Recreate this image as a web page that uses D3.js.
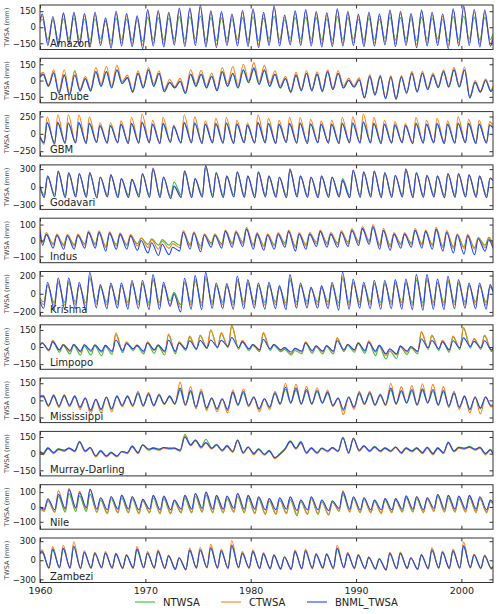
<!doctype html>
<html lang="en">
<head>
<meta charset="UTF-8">
<title>TWSA basins</title>
<script src="https://cdn.jsdelivr.net/npm/d3@7"></script>
<style>
  body { margin: 0; background: #fff; }
  svg { display: block; font-family: "DejaVu Sans", sans-serif; }
  .frame { fill: none; stroke: #333; stroke-width: 1; }
  .tick line { stroke: #333; }
  .domain { display: none; }
</style>
</head>
<body>
<svg id="chart" width="500" height="614"></svg>
<script>
// series
const seriesNames = ["NTWSA", "CTWSA", "BNML_TWSA"];
const seriesColors = ["#33c233", "#ff7f0e", "#1f45fc"];
const xTicks = [1960, 1970, 1980, 1990, 2000];
const firstYear = 1960, lastYear = 2003;

// yearly peak (hi) and trough (lo) values, 1960..2002
// edge = [[start N, C, B], [end N, C, B]] at 1960.0 and 2003.0
const amazonHiN = [75,65,80,85,75,80,55,85,75,65, 95,90,85,100,100,105,90,85,75,90, 100,85,105,70,90,95,90,80,100,90, 75,85,75,95,90,80,95,85,75,100, 105,95,95];
const amazonHiC = [105,80,120,125,110,120,70,130,110,90, 150,140,125,160,165,185,135,130,105,140, 155,120,180,95,135,150,130,115,155,130, 100,120,105,140,130,110,145,120,105,155, 180,145,140];
const amazonHiB = [124,100,134,140,127,140,88,150,127,108, 166,156,140,180,180,205,153,147,124,156, 173,140,199,114,153,166,147,134,173,147, 120,140,124,160,147,127,160,140,124,173, 199,166,160];
const amazonLoN = [-115,-120,-110,-115,-125,-110,-130,-115,-120,-130, -115,-120,-110,-115,-110,-120,-125,-110,-115,-120, -125,-110,-115,-105,-110,-115,-120,-120,-115,-110, -120,-115,-105,-120,-110,-125,-115,-110,-130,-115, -110,-120,-115];
const amazonLoC = [-150,-155,-140,-150,-160,-145,-165,-150,-155,-170, -150,-160,-140,-155,-145,-160,-165,-145,-150,-155, -165,-145,-150,-140,-145,-150,-160,-155,-150,-145, -155,-150,-140,-155,-145,-165,-150,-145,-170,-150, -145,-160,-150];
const amazonLoB = [-170,-180,-160,-175,-185,-170,-195,-175,-180,-200, -175,-185,-165,-180,-170,-185,-190,-170,-175,-180, -190,-170,-175,-165,-170,-175,-185,-180,-175,-170, -180,-175,-165,-180,-170,-190,-175,-170,-200,-175, -170,-185,-175];
const amazonEdge = [[45, 55, 70], [-60, -90, -110]];

const danubeHiN = [55,80,55,90,20,80,80,95,25,65, 95,65,-20,-5,55,55,40,80,60,95, 105,90,55,20,50,65,55,75,65,5, 5,35,35,30,35,75,70,55,80,100, 95,-15,5];
const danubeHiC = [75,100,100,90,40,120,130,140,50,90, 120,90,10,20,100,95,70,120,130,150, 165,140,90,40,75,90,80,100,90,20, 25,55,50,45,45,85,85,70,100,120, 125,0,15];
const danubeHiB = [60,67,50,50,17,83,83,100,27,67, 100,67,-17,-7,60,60,40,83,67,100, 117,100,60,17,50,67,60,83,67,0, 7,40,40,33,33,67,67,50,83,100, 100,-17,0];
const danubeLoN = [-55,-120,-140,-100,-100,-55,-70,-30,-110,-70, -55,-105,-70,-120,-55,-70,-95,-55,-70,-20, -35,-55,-70,-110,-95,-95,-105,-85,-70,-60, -160,-135,-165,-170,-115,-105,-85,-65,-60,-60, -160,-105,-100];
const danubeLoC = [-40,-100,-120,-80,-80,-30,-50,-10,-95,-50, -30,-85,-55,-105,-30,-50,-80,-30,-45,0, -10,-25,-50,-95,-80,-80,-85,-70,-50,-45, -150,-120,-155,-160,-105,-95,-70,-50,-45,-45, -150,-95,-90];
const danubeLoB = [-50,-117,-133,-93,-93,-50,-67,-27,-107,-67, -50,-100,-67,-117,-50,-67,-93,-50,-67,-17, -33,-50,-67,-107,-93,-93,-100,-83,-67,-60, -160,-133,-167,-173,-117,-107,-83,-67,-60,-60, -160,-107,-100];
const danubeEdge = [[30, 55, 35], [-60, -50, -80]];

const gbmHiN = [150,150,145,150,140,110,110,130,140,155, 130,140,100,150,145,130,140,145,135,115, 150,140,130,140,145,135,130,130,140,145, 160,140,130,120,110,140,130,140,130,140, 140,130,120];
const gbmHiC = [245,275,275,275,245,160,160,186,235,290, 196,235,127,275,245,186,225,235,196,160, 275,225,196,235,235,210,186,196,235,245, 290,235,196,176,147,235,196,225,186,245, 210,196,176];
const gbmHiB = [165,165,160,165,155,120,120,140,150,170, 140,150,110,165,160,140,150,160,145,125, 165,150,140,150,160,145,140,140,155,160, 175,155,140,130,120,155,140,150,140,155, 150,140,130];
const gbmLoN = [-115,-120,-120,-115,-120,-110,-120,-115,-120,-120, -115,-120,-110,-120,-115,-120,-115,-120,-120,-115, -120,-115,-120,-110,-120,-120,-115,-120,-120,-115, -120,-115,-120,-120,-115,-120,-120,-115,-120,-120, -115,-120,-120];
const gbmLoC = [-150,-170,-140,-130,-135,-120,-130,-125,-135,-130, -125,-135,-120,-130,-125,-135,-125,-130,-135,-125, -130,-125,-135,-120,-130,-135,-125,-130,-135,-125, -130,-125,-135,-130,-125,-135,-130,-125,-135,-130, -125,-135,-130];
const gbmLoB = [-130,-140,-135,-130,-140,-125,-135,-130,-140,-135, -130,-140,-125,-135,-130,-140,-130,-135,-140,-130, -135,-130,-140,-125,-135,-140,-130,-135,-140,-130, -135,-130,-140,-135,-130,-140,-135,-130,-140,-135, -130,-140,-135];
const gbmEdge = [[-40, -30, -50], [90, 120, 80]];

const godavariHiN = [170,240,220,205,220,160,190,135,130,205, 280,160,85,240,135,320,220,175,230,175, 230,175,160,270,175,160,175,160,141,255, 230,240,220,185,270,220,185,175,205,205, 190,175,145];
const godavariHiC = [180,260,235,220,240,165,200,135,125,220, 320,165,10,270,135,360,240,180,250,180, 250,180,165,310,180,165,180,165,105,280, 250,260,235,190,310,235,190,180,220,220, 200,180,150];
const godavariHiB = [187,266,243,226,243,170,209,141,130,226, 311,170,17,266,141,356,243,187,255,187, 255,187,170,300,187,170,187,170,113,283, 255,266,243,198,300,243,198,187,226,226, 209,187,153];
const godavariLoN = [-130,-120,-135,-125,-130,-140,-125,-135,-130,-125, -130,-135,-150,-130,-135,-125,-130,-135,-125,-130, -135,-125,-130,-135,-125,-130,-135,-130,-125,-135, -130,-125,-135,-130,-125,-135,-130,-125,-135,-130, -125,-130,-135];
const godavariLoC = [-165,-155,-170,-160,-165,-175,-160,-170,-165,-160, -165,-170,-180,-165,-170,-160,-165,-170,-160,-165, -170,-160,-165,-170,-160,-165,-170,-165,-160,-170, -165,-160,-170,-165,-160,-170,-165,-160,-170,-165, -160,-165,-170];
const godavariLoB = [-170,-160,-175,-165,-170,-180,-165,-175,-170,-165, -170,-175,-190,-170,-175,-165,-170,-175,-165,-170, -175,-165,-170,-175,-165,-170,-175,-170,-165,-175, -170,-165,-175,-170,-165,-175,-170,-165,-175,-170, -165,-170,-175];
const godavariEdge = [[20, 10, 10], [110, 120, 110]];

const indusHiN = [35,30,30,30,45,45,40,35,30,15, 10,5,-5,50,45,35,35,60,50,70, 40,35,40,55,40,40,55,40,50,60, 70,80,60,40,40,60,55,65,50,35, 30,15,20];
const indusHiC = [50,40,38,40,60,60,55,48,38,15, 5,-5,-20,62,55,42,42,65,60,82, 50,42,50,65,50,50,65,50,62,75, 88,100,75,50,50,75,65,82,62,42, 38,20,15];
const indusHiB = [40,33,29,33,52,52,48,40,29,0, -14,-24,-43,52,48,33,33,57,52,71, 40,33,40,57,40,40,57,40,52,64, 76,88,64,40,40,64,57,71,52,33, 29,10,5];
const indusLoN = [-10,-20,-25,-25,-20,-20,-35,-25,-25,-20, -25,-30,-30,-30,-25,-35,-15,-20,-15,-10, -25,-30,-25,-15,-35,-25,-10,-15,-15,-10, -5,0,-25,-30,-20,-15,-20,-25,-35,-40, -40,-45,-30];
const indusLoC = [-15,-30,-35,-35,-30,-30,-45,-35,-35,-35, -45,-55,-50,-45,-35,-50,-25,-30,-25,-20, -35,-40,-35,-25,-45,-35,-20,-25,-25,-20, -15,-10,-35,-40,-30,-25,-30,-35,-45,-50, -50,-55,-45];
const indusLoB = [-31,-48,-55,-55,-48,-48,-67,-55,-55,-62, -79,-95,-90,-67,-55,-71,-43,-48,-43,-38, -55,-62,-55,-43,-67,-55,-38,-43,-43,-38, -31,-24,-55,-62,-48,-43,-48,-55,-67,-79, -86,-90,-67];
const indusEdge = [[35, 85, 55], [-20, -30, -50]];

const krishnaHiN = [90,120,120,90,165,70,85,85,105,105, 150,90,15,120,140,165,85,80,135,110, 85,90,65,150,85,55,65,90,165,115, 90,105,105,110,115,150,150,115,135,110, 85,85,70];
const krishnaHiC = [100,140,140,100,190,80,95,95,120,120, 170,100,-5,135,160,190,95,90,155,125, 95,100,70,170,95,60,70,100,190,130, 100,120,120,125,130,170,170,130,155,125, 95,95,80];
const krishnaHiB = [126,174,174,126,237,100,118,118,148,148, 211,126,0,170,200,235,118,111,192,155, 118,126,89,211,118,74,89,126,237,163, 126,148,148,155,163,211,211,163,192,155, 118,118,100];
const krishnaLoN = [-90,-100,-95,-90,-100,-85,-90,-90,-95,-90, -100,-95,-80,-120,-95,-100,-90,-90,-95,-90, -90,-95,-90,-100,-90,-85,-90,-90,-100,-95, -90,-90,-95,-90,-95,-100,-100,-95,-100,-90, -90,-90,-95];
const krishnaLoC = [-120,-130,-125,-120,-135,-115,-120,-120,-125,-120, -130,-125,-120,-150,-125,-130,-120,-120,-125,-120, -120,-125,-120,-130,-120,-115,-120,-120,-135,-125, -120,-120,-125,-120,-125,-130,-135,-125,-130,-120, -120,-120,-125];
const krishnaLoB = [-160,-175,-170,-165,-180,-155,-165,-160,-170,-165, -175,-170,-140,-200,-170,-175,-160,-165,-170,-165, -160,-170,-165,-175,-160,-155,-160,-165,-180,-170, -160,-165,-170,-165,-170,-175,-180,-170,-175,-165, -160,-165,-170];
const krishnaEdge = [[-50, -70, -90], [40, 30, 20]];

const limpopoHiN = [35,50,15,15,10,10,5,110,35,10, 35,10,105,35,85,100,150,120,190,50, 15,120,15,-20,-30,35,0,5,75,15, 30,45,5,-35,0,-5,130,100,55,90, 165,70,100];
const limpopoHiC = [40,60,25,25,20,20,15,125,45,20, 45,20,114,45,96,105,150,126,186,60, 25,126,25,-5,-15,45,10,15,84,25, 40,54,15,-20,10,5,135,105,60,96, 174,75,105];
const limpopoHiB = [36,45,20,22,20,18,15,62,30,15, 35,18,60,35,55,58,62,60,84,45, 22,66,22,-5,-12,35,10,12,55,22, 35,40,15,-15,8,5,70,58,45,55, 80,50,55];
const limpopoLoN = [-35,-45,-60,-70,-70,-75,-65,-50,-30,-60, -55,-70,-60,-30,-25,-15,-10,-5,-20,-30, -40,-30,-40,-70,-60,-55,-60,-60,-40,-45, -55,-75,-105,-100,-65,-60,-20,-30,-45,-20, -10,-20,-40];
const limpopoLoC = [-30,-30,-40,-45,-40,-45,-45,-40,-20,-45, -30,-45,-45,-20,-20,-10,-5,0,-10,-20, -30,-20,-30,-60,-45,-40,-45,-45,-30,-30, -40,-45,-75,-70,-45,-45,-10,-20,-30,-10, 0,-10,-30];
const limpopoLoB = [-24,-24,-30,-36,-30,-36,-36,-30,-15,-36, -24,-36,-36,-15,-15,-6,0,6,-6,-15, -24,-15,-24,-45,-36,-30,-36,-36,-24,-24, -30,-36,-60,-60,-36,-36,-6,-15,-24,-6, 6,-6,-24];
const limpopoEdge = [[10, 15, 20], [-20, -15, -10]];

const mississippiHiN = [30,35,35,30,15,5,25,30,30,55, 50,40,30,90,75,65,15,10,60,65, 25,10,55,95,90,80,75,60,15,25, 55,55,40,90,75,80,85,80,75,55, 30,25,25];
const mississippiHiC = [45,50,50,40,20,5,30,40,40,80, 70,55,40,160,120,100,20,10,90,100, 30,10,80,150,140,120,110,90,20,30, 80,80,55,150,120,130,145,140,120,80, 40,30,30];
const mississippiHiB = [37,43,43,37,20,9,29,37,37,66, 58,49,37,107,86,78,20,14,72,78, 29,14,66,115,107,95,86,72,20,29, 66,66,49,107,86,95,101,95,86,66, 37,29,29];
const mississippiLoN = [-50,-55,-50,-65,-95,-85,-80,-50,-50,-50, -50,-35,-35,-45,-65,-75,-80,-90,-45,-50, -80,-65,-35,-25,-35,-35,-25,-50,-90,-65, -35,-45,-45,-35,-25,-45,-25,-45,-55,-65, -85,-75,-50];
const mississippiLoC = [-55,-65,-55,-80,-120,-110,-100,-55,-55,-55, -50,-35,-35,-45,-75,-90,-100,-110,-45,-55, -100,-80,-35,-25,-35,-35,-25,-55,-125,-80, -35,-45,-45,-35,-25,-45,-25,-45,-65,-80, -110,-120,-55];
const mississippiLoB = [-43,-49,-43,-58,-86,-78,-72,-43,-43,-43, -43,-29,-29,-37,-58,-66,-72,-78,-37,-43, -72,-58,-29,-20,-29,-29,-20,-43,-78,-58, -29,-37,-37,-29,-20,-37,-20,-37,-49,-58, -78,-66,-43];
const mississippiEdge = [[30, 35, 35], [-50, -55, -40]];

const murrayHiN = [55,45,50,110,55,30,15,20,70,80, 55,55,50,175,125,130,85,75,125,60, 45,30,0,115,110,55,50,55,150,140, 70,65,55,60,55,55,60,55,105,60, 65,60,40];
const murrayHiC = [45,35,45,100,50,20,5,15,60,75, 45,50,45,160,115,95,75,65,115,55, 35,20,-10,105,95,45,45,50,145,140, 65,55,45,55,45,45,50,45,95,50, 55,50,30];
const murrayHiB = [50,40,50,105,55,25,10,20,65,78, 50,55,50,150,120,100,80,70,120,60, 40,25,-6,110,100,50,48,54,140,135, 70,60,50,60,50,50,55,50,100,55, 60,55,35];
const murrayLoN = [5,10,30,25,25,-20,-20,-25,10,10, 40,40,50,30,80,60,50,30,20,10, 0,-5,-40,50,50,10,10,25,25,10, 30,25,25,25,10,25,10,0,10,25, 50,40,0];
const murrayLoC = [-10,0,20,15,15,-30,-30,-30,0,0, 30,30,40,20,70,50,40,20,10,0, -10,-15,-45,40,40,0,0,15,15,0, 20,15,15,15,0,15,0,-10,0,15, 40,30,-10];
const murrayLoB = [0,9,30,24,24,-21,-21,-21,9,9, 39,39,48,30,78,60,48,30,18,9, 0,-6,-36,48,48,9,9,24,24,9, 30,24,24,24,9,24,9,0,9,24, 48,39,0];
const murrayEdge = [[20, 15, 20], [5, -5, 0]];

const nileHiN = [40,70,90,75,85,45,55,60,55,40, 60,55,35,60,70,80,60,55,70,60, 55,40,45,50,35,55,35,30,85,55, 50,35,45,45,60,55,50,70,60,55, 60,55,35];
const nileHiC = [50,110,125,105,115,60,70,80,70,50, 75,70,45,75,90,100,75,70,90,75, 65,55,60,65,45,65,45,40,110,65, 60,45,55,55,75,70,60,85,75,70, 75,65,45];
const nileHiB = [55,85,115,95,120,62,69,78,69,51, 78,73,47,78,91,100,78,73,91,78, 69,56,62,69,47,69,47,40,100,69, 62,47,56,56,73,69,62,84,78,73, 78,69,47];
const nileLoN = [-25,-35,-35,-30,-30,-35,-45,-40,-40,-45, -40,-45,-45,-40,-40,-35,-40,-40,-35,-40, -45,-50,-50,-45,-60,-50,-50,-55,-25,-30, -35,-35,-40,-35,-30,-30,-35,-25,-30,-30, -30,-30,-35];
const nileLoC = [-30,-35,-25,-15,-20,-35,-40,-35,-35,-40, -35,-40,-40,-35,-35,-30,-35,-35,-30,-35, -40,-45,-45,-40,-50,-45,-45,-50,-30,-35, -40,-40,-45,-40,-35,-35,-40,-30,-35,-35, -35,-40,-40];
const nileLoB = [-15,-20,-10,-5,-5,-15,-20,-15,-15,-20, -15,-20,-20,-15,-15,-10,-15,-15,-10,-15, -15,-20,-20,-15,-25,-20,-20,-25,-10,-15, -20,-20,-20,-20,-15,-15,-20,-10,-15,-15, -15,-15,-20];
const nileEdge = [[0, -15, 0], [20, 20, 30]];

const zambeziHiN = [120,160,175,205,115,100,105,90,70,160, 105,125,60,40,145,150,180,135,215,100, 125,90,70,45,125,135,85,85,170,95, 70,40,25,100,100,35,75,150,115,135, 205,80,65];
const zambeziHiC = [165,215,235,290,150,125,135,115,90,215, 135,165,80,40,190,200,250,175,310,135, 165,120,90,55,165,175,110,110,235,125, 95,55,15,125,130,40,95,200,145,175, 285,95,80];
const zambeziHiB = [135,175,190,225,125,110,115,100,80,175, 115,140,70,35,160,165,200,150,240,115, 140,100,80,50,140,150,95,95,190,105, 80,45,20,110,110,35,85,165,125,150, 230,85,70];
const zambeziLoN = [-110,-105,-110,-115,-110,-105,-110,-115,-110,-105, -110,-115,-130,-135,-110,-105,-110,-115,-105,-110, -115,-120,-125,-130,-120,-115,-110,-115,-105,-115, -120,-125,-140,-120,-115,-130,-120,-110,-115,-110, -105,-115,-120];
const zambeziLoC = [-130,-125,-130,-135,-130,-125,-130,-135,-130,-125, -130,-135,-150,-155,-130,-125,-130,-135,-125,-130, -135,-140,-145,-150,-140,-135,-130,-135,-125,-135, -140,-145,-160,-140,-135,-150,-140,-130,-135,-130, -125,-135,-140];
const zambeziLoB = [-120,-115,-120,-125,-120,-115,-120,-125,-120,-115, -120,-125,-140,-145,-120,-115,-120,-125,-115,-120, -125,-130,-135,-140,-130,-125,-120,-125,-115,-125, -130,-135,-150,-130,-125,-140,-130,-120,-125,-120, -115,-125,-130];
const zambeziEdge = [[100, 120, 110], [-100, -110, -105]];

// basin panels: name, symmetric y limit, y ticks, timing of peak / trough within the year
const basins = [
  { name: "Amazon", lim: 208, ticks: [-150, 0, 150], tHi: 0.22, tLo: 0.75, hi: [amazonHiN, amazonHiC, amazonHiB], lo: [amazonLoN, amazonLoC, amazonLoB], edge: amazonEdge },
  { name: "Danube", lim: 205, ticks: [-150, 0, 150], tHi: 0.3, tLo: 0.8, hi: [danubeHiN, danubeHiC, danubeHiB], lo: [danubeLoN, danubeLoC, danubeLoB], edge: danubeEdge },
  { name: "GBM", lim: 320, ticks: [-250, 0, 250], tHi: 0.68, tLo: 0.38, hi: [gbmHiN, gbmHiC, gbmHiB], lo: [gbmLoN, gbmLoC, gbmLoB], edge: gbmEdge },
  { name: "Godavari", lim: 370, ticks: [-300, 0, 300], tHi: 0.72, tLo: 0.4, hi: [godavariHiN, godavariHiC, godavariHiB], lo: [godavariLoN, godavariLoC, godavariLoB], edge: godavariEdge },
  { name: "Indus", lim: 140, ticks: [-100, 0, 100], tHi: 0.6, tLo: 0.25, hi: [indusHiN, indusHiC, indusHiB], lo: [indusLoN, indusLoC, indusLoB], edge: indusEdge },
  { name: "Krishna", lim: 245, ticks: [-200, 0, 200], tHi: 0.72, tLo: 0.35, hi: [krishnaHiN, krishnaHiC, krishnaHiB], lo: [krishnaLoN, krishnaLoC, krishnaLoB], edge: krishnaEdge },
  { name: "Limpopo", lim: 195, ticks: [-150, 0, 150], tHi: 0.2, tLo: 0.85, hi: [limpopoHiN, limpopoHiC, limpopoHiB], lo: [limpopoLoN, limpopoLoC, limpopoLoB], edge: limpopoEdge },
  { name: "Mississippi", lim: 195, ticks: [-150, 0, 150], tHi: 0.3, tLo: 0.8, hi: [mississippiHiN, mississippiHiC, mississippiHiB], lo: [mississippiLoN, mississippiLoC, mississippiLoB], edge: mississippiEdge },
  { name: "Murray-Darling", lim: 200, ticks: [-150, 0, 150], tHi: 0.75, tLo: 0.3, hi: [murrayHiN, murrayHiC, murrayHiB], lo: [murrayLoN, murrayLoC, murrayLoB], edge: murrayEdge },
  { name: "Nile", lim: 150, ticks: [-100, 0, 100], tHi: 0.75, tLo: 0.4, hi: [nileHiN, nileHiC, nileHiB], lo: [nileLoN, nileLoC, nileLoB], edge: nileEdge },
  { name: "Zambezi", lim: 350, ticks: [-300, 0, 300], tHi: 0.2, tLo: 0.85, hi: [zambeziHiN, zambeziHiC, zambeziHiB], lo: [zambeziLoN, zambeziLoC, zambeziLoB], edge: zambeziEdge }
];

// layout
const left = 40, right = 493, top0 = 5, step = 53.3, panelH = 44.5;

const svg = d3.select("#chart");
const x = d3.scaleLinear().domain([firstYear, lastYear]).range([left, right]);

function turningPoints(b, s) {
  const pts = [{ t: firstYear, v: b.edge[0][s] }];
  b.hi[s].forEach((h, i) => {
    const yr = firstYear + i;
    const p = { t: yr + b.tHi, v: h }, q = { t: yr + b.tLo, v: b.lo[s][i] };
    if (b.tHi < b.tLo) pts.push(p, q); else pts.push(q, p);
  });
  pts.push({ t: lastYear, v: b.edge[1][s] });
  return pts;
}

svg.append("defs").append("clipPath").attr("id", "clip")
  .append("rect").attr("x", left).attr("y", 0).attr("width", right - left).attr("height", panelH);

basins.forEach((b, i) => {
  const top = top0 + i * step;
  const g = svg.append("g").attr("transform", "translate(0," + top + ")");
  const y = d3.scaleLinear().domain([-b.lim, b.lim]).range([panelH, 0]);

  const line = d3.line().x(d => x(d.t)).y(d => y(d.v)).curve(d3.curveMonotoneX);
  const lines = g.append("g").attr("clip-path", "url(#clip)");
  seriesNames.forEach((name, s) => {
    lines.append("path")
      .datum(turningPoints(b, s))
      .attr("fill", "none")
      .attr("stroke", seriesColors[s])
      .attr("stroke-width", 1.1)
      .attr("d", line);
  });

  // y axes, ticks pointing inward
  const yl = g.append("g").attr("transform", "translate(" + left + ",0)")
    .call(d3.axisLeft(y).tickValues(b.ticks).tickSize(-3.5).tickPadding(4));
  yl.selectAll("text").attr("font-size", 8.5).attr("fill", "#222").attr("font-family", "DejaVu Sans");
  g.append("g").attr("transform", "translate(" + right + ",0)")
    .call(d3.axisRight(y).tickValues(b.ticks).tickSize(-3.5).tickFormat(""));

  // x ticks top and bottom
  const xb = g.append("g").attr("transform", "translate(0," + panelH + ")")
    .call(d3.axisBottom(x).tickValues(xTicks).tickSize(-3.5).tickPadding(5).tickFormat(i === basins.length - 1 ? d3.format("d") : ""));
  xb.selectAll("text").attr("font-size", 9.5).attr("fill", "#222").attr("font-family", "DejaVu Sans");
  g.append("g").call(d3.axisTop(x).tickValues(xTicks).tickSize(-3.5).tickFormat(""));

  g.append("rect").attr("class", "frame")
    .attr("x", left).attr("y", 0).attr("width", right - left).attr("height", panelH);

  g.append("text").attr("x", left + 10).attr("y", panelH - 3)
    .attr("font-size", 10).attr("fill", "#222").text(b.name);

  g.append("text")
    .attr("transform", "translate(9," + panelH / 2 + ") rotate(-90)")
    .attr("text-anchor", "middle").attr("font-size", 6.5).attr("fill", "#444")
    .text("TWSA (mm)");
});

// legend
const legendX = [135, 221, 307];
const legY = 602;
seriesNames.forEach((name, s) => {
  svg.append("line").attr("x1", legendX[s]).attr("x2", legendX[s] + 20)
    .attr("y1", legY).attr("y2", legY)
    .attr("stroke", seriesColors[s]).attr("stroke-width", 1.1);
  svg.append("text").attr("x", legendX[s] + 28).attr("y", legY + 3.5)
    .attr("font-size", 10).attr("fill", "#222").text(name);
});
</script>
</body>
</html>
